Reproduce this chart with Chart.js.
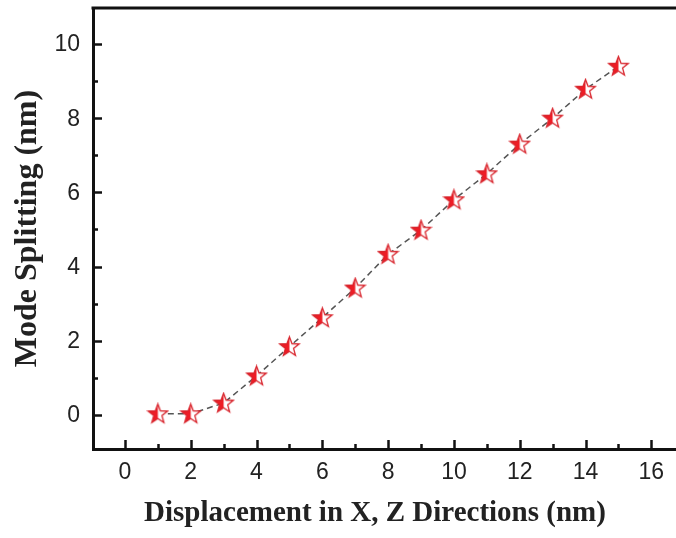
<!DOCTYPE html>
<html>
<head>
<meta charset="utf-8">
<script src="https://cdn.jsdelivr.net/npm/chart.js@4.4.1/dist/chart.umd.min.js"></script>
<style>
  html, body { margin: 0; padding: 0; background: #fff; }
  canvas { display: block; }
</style>
</head>
<body>
<canvas id="chart" width="676" height="538"></canvas>
<script>
// data
const displacement = [1, 2, 3, 4, 5, 6, 7, 8, 9, 10, 11, 12, 13, 14, 15];
const modeSplitting = [0.03, 0.03, 0.32, 1.05, 1.84, 2.62, 3.42, 4.33, 4.98, 5.8, 6.5, 7.3, 8.0, 8.78, 9.4];

const xMajorTicks = [0, 2, 4, 6, 8, 10, 12, 14, 16];
const xMinorTicks = [1, 3, 5, 7, 9, 11, 13, 15];
const yMajorTicks = [0, 2, 4, 6, 8, 10];
const yMinorTicks = [1, 3, 5, 7, 9];

const xTitle = 'Displacement in X, Z Directions (nm)';
const yTitle = 'Mode Splitting (nm)';

// half filled star marker
function makeStar(size) {
  const c = document.createElement('canvas');
  c.width = size;
  c.height = size;
  const g = c.getContext('2d');
  const cx = size / 2, cy = size / 2 + 0.5;
  const outer = size / 2 - 1.2, inner = outer * 0.42;
  g.beginPath();
  for (let i = 0; i < 10; i++) {
    const r = i % 2 === 0 ? outer : inner;
    const a = -Math.PI / 2 + i * Math.PI / 5;
    const px = cx + r * Math.cos(a), py = cy + r * Math.sin(a);
    if (i === 0) g.moveTo(px, py); else g.lineTo(px, py);
  }
  g.closePath();
  g.fillStyle = '#fff';
  g.fill();
  g.save();
  g.clip();
  g.fillStyle = '#ee1c25';
  g.fillRect(0, 0, cx, size);
  g.restore();
  g.lineWidth = 1.3;
  g.strokeStyle = '#d8242c';
  g.stroke();
  return c;
}
const starMarker = makeStar(23);

// frame, inward ticks, tick labels and x title
const frame = {
  id: 'frame',
  afterDraw(chart) {
    const { ctx, chartArea: a, scales: { x, y } } = chart;
    ctx.save();
    ctx.strokeStyle = '#111';
    ctx.lineCap = 'butt';
    ctx.lineWidth = 3;
    ctx.beginPath();
    ctx.moveTo(a.left - 1.5, a.top);
    ctx.lineTo(a.right, a.top);
    ctx.stroke();
    ctx.lineWidth = 2.5;
    const xtick = (vals, len) => {
      vals.forEach(v => {
        const px = Math.round(x.getPixelForValue(v)) + 0.5;
        ctx.beginPath();
        ctx.moveTo(px, a.bottom);
        ctx.lineTo(px, a.bottom - len);
        ctx.stroke();
      });
    };
    const ytick = (vals, len) => {
      vals.forEach(v => {
        const py = Math.round(y.getPixelForValue(v)) + 0.5;
        ctx.beginPath();
        ctx.moveTo(a.left, py);
        ctx.lineTo(a.left + len, py);
        ctx.stroke();
      });
    };
    xtick(xMajorTicks, 9);
    xtick(xMinorTicks, 5);
    ytick(yMajorTicks, 9);
    ytick(yMinorTicks, 5);

    ctx.fillStyle = '#222';
    ctx.font = '23px "Liberation Sans"';
    ctx.textBaseline = 'middle';
    ctx.textAlign = 'center';
    xMajorTicks.forEach(v => ctx.fillText(String(v), x.getPixelForValue(v), a.bottom + 24));
    ctx.textAlign = 'right';
    yMajorTicks.forEach(v => ctx.fillText(String(v), a.left - 13, y.getPixelForValue(v) + 1));

    ctx.textAlign = 'center';
    ctx.font = 'bold 29px "Liberation Serif"';
    ctx.fillText(xTitle, x.getPixelForValue(7.6), a.bottom + 65);
    ctx.restore();
  }
};

new Chart(document.getElementById('chart'), {
  type: 'line',
  data: {
    labels: displacement,
    datasets: [{
      data: displacement.map((d, i) => ({ x: d, y: modeSplitting[i] })),
      borderColor: '#555',
      borderWidth: 1.5,
      borderDash: [6, 4],
      pointStyle: starMarker,
      pointRadius: 11,
      tension: 0,
      fill: false
    }]
  },
  options: {
    responsive: false,
    animation: false,
    layout: { autoPadding: false, padding: { top: 8, right: 0, left: 0, bottom: 0 } },
    plugins: { legend: { display: false }, tooltip: { enabled: false } },
    scales: {
      x: {
        type: 'linear',
        min: -0.97,
        max: 16.75,
        afterFit: s => { s.height = 89; },
        grid: { display: false, drawTicks: false },
        border: { display: true, color: '#111', width: 3 },
        ticks: { display: false },
        title: { display: false }
      },
      y: {
        min: -0.92,
        max: 10.97,
        afterFit: s => { s.width = 93; },
        grid: { display: false, drawTicks: false },
        border: { display: true, color: '#111', width: 3 },
        ticks: { display: false },
        title: {
          display: true, text: yTitle, color: '#222',
          font: { family: 'Liberation Serif', size: 32, weight: 'bold' },
          padding: { top: 9, bottom: 0 }
        }
      }
    }
  },
  plugins: [frame]
});
</script>
</body>
</html>
